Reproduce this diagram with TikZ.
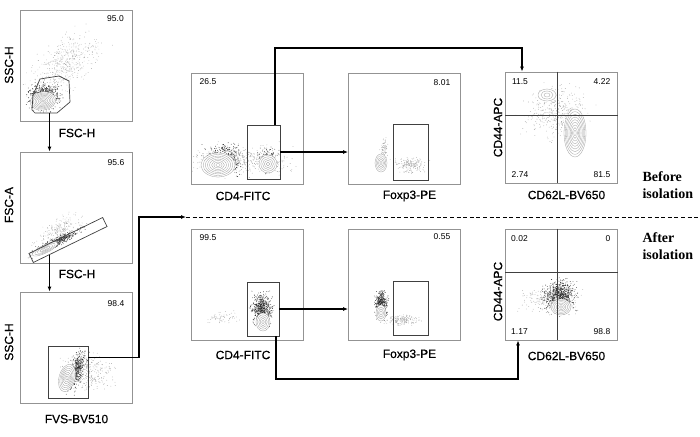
\documentclass[tikz,border=0pt]{standalone}
\usepackage{fontspec}
\setmainfont{Liberation Sans}
\newfontfamily\serifbold{Liberation Serif}
\newfontfamily\labelfont[FakeBold=0.6]{Liberation Sans}
\usetikzlibrary{arrows.meta}

% random events around a centre: x, y, spread x, spread y, angle, count, style
\newcommand{\flowdots}[7]{%
  \begin{scope}[shift={(#1,#2)},rotate=#5]
    \foreach \k in {1,...,#6}{
      \pgfmathsetmacro{\du}{#3*(rand+rand+rand)/1.7}
      \pgfmathsetmacro{\dv}{#4*(rand+rand+rand)/1.7}
      \fill[#7] (\du,\dv) circle (0.4);
    }
  \end{scope}}
% contour rings: x, y, radius x, radius y, angle, count
\newcommand{\flowrings}[6]{%
  \begin{scope}[shift={(#1,#2)},rotate=#5]
    \fill[white] (0,0) ellipse ({#3} and {#4});
    \foreach \i in {1,...,#6}{
      \draw[ring] (0,0) ellipse ({#3*\i/#6} and {#4*\i/#6});
    }
  \end{scope}}

\begin{document}
\begin{tikzpicture}[x=1pt,y=-1pt,
    panel/.style={draw=gray!85, line width=0.8pt, inner sep=0pt, minimum width=112pt, minimum height=111pt},
    gate/.style={draw=black!75, line width=0.7pt, inner sep=0pt},
    conn/.style={line width=1.1pt, -{Latex[length=5pt,width=4pt]}},
    divider/.style={line width=1pt, dash pattern=on 4pt off 2.6pt},
    quad/.style={draw=black!75, line width=0.8pt},
    ring/.style={draw=gray!75, line width=0.3pt},
    fine/.style={fill=gray!70},
    dense/.style={fill=black!85},
    num/.style={font=\fontsize{8.5}{10}\selectfont},
    axlabel/.style={font=\labelfont\fontsize{12}{14}\selectfont},
    phase/.style={font=\serifbold\bfseries\fontsize{14}{17}\selectfont, align=left, anchor=west}]
    \useasboundingbox (0,0) rectangle (700,436);
    \pgfmathsetseed{11}

    % panels
    \node[panel] (p1) at (76.5,65.5) {};
    \node[panel] (p2) at (76.5,207.5) {};
    \node[panel] (p3) at (76,347.5) {};
    \node[panel] (pa) at (247.5,128.5) {};
    \node[panel] (pb) at (404.5,128.5) {};
    \node[panel] (pc) at (561.5,127.5) {};
    \node[panel] (pd) at (247.5,284.5) {};
    \node[panel] (pe) at (404.5,284.5) {};
    \node[panel] (pf) at (561.5,284.5) {};

    % events
    \begin{scope}
        \clip (p1.north west) rectangle (p1.south east);
        \flowdots{64}{66}{32}{17}{40}{500}{fine}
        \flowdots{44}{97}{12}{10}{0}{700}{dense}
        \flowrings{43}{101}{13}{9}{10}{8}
    \end{scope}
    \begin{scope}
        \clip (p2.north west) rectangle (p2.south east);
        \flowdots{58}{230}{20}{8}{35}{200}{fine}
        \flowdots{56}{242}{22}{3.5}{26}{450}{dense}
        \flowrings{45}{249}{14}{4}{26}{5}
    \end{scope}
    \begin{scope}
        \clip (p3.north west) rectangle (p3.south east);
        \flowdots{88}{372}{20}{14}{0}{300}{fine}
        \flowdots{75}{372}{16}{6}{70}{600}{dense}
        \flowrings{67}{378}{14}{8}{75}{7}
    \end{scope}
    \begin{scope}
        \clip (pa.north west) rectangle (pa.south east);
        \flowdots{240}{160}{40}{12}{0}{500}{fine}
        \flowdots{222}{160}{15}{11}{0}{550}{dense}
        \flowdots{268}{160}{7}{9}{0}{220}{dense}
        \flowrings{218}{165}{17}{12}{0}{8}
        \flowrings{268}{164}{9}{9}{0}{5}
    \end{scope}
    \begin{scope}
        \clip (pb.north west) rectangle (pb.south east);
        \flowdots{384}{150}{3}{10}{0}{80}{fine}
        \flowdots{410}{165}{12}{6}{0}{180}{fine}
        \flowrings{381}{163}{6}{9}{0}{5}
    \end{scope}
    \begin{scope}
        \clip (pc.north west) rectangle (pc.south east);
        \flowdots{556}{112}{25}{20}{0}{380}{fine}
        \flowrings{547}{95}{9}{6}{0}{3}
        \flowrings{575}{133}{11}{24}{0}{9}
    \end{scope}
    \begin{scope}
        \clip (pd.north west) rectangle (pd.south east);
        \flowdots{222}{318}{12}{5}{0}{60}{fine}
        \flowdots{262}{310}{8}{12}{0}{600}{dense}
        \flowrings{263}{322}{7}{9}{0}{5}
    \end{scope}
    \begin{scope}
        \clip (pe.north west) rectangle (pe.south east);
        \flowdots{402}{320}{14}{4}{0}{160}{fine}
        \flowdots{381}{304}{5}{10}{0}{400}{dense}
        \flowrings{381}{313}{5}{8}{0}{4}
    \end{scope}
    \begin{scope}
        \clip (pf.north west) rectangle (pf.south east);
        \flowdots{550}{300}{22}{10}{0}{250}{fine}
        \flowdots{560}{296}{12}{12}{0}{700}{dense}
        \flowrings{561}{307}{10}{8}{0}{6}
    \end{scope}

    % gates
    \draw[gate] (40,79) -- (59,76) -- (69,81) -- (70,102) -- (57,113) -- (35,113) -- (32,110) -- (33,95) -- cycle;
    \coordinate (g1) at (49.5,113);
    \node[gate, rotate=26, minimum width=82pt, minimum height=10pt] (g2) at (68,240) {};
    \coordinate (g2out) at (49.5,254.5);
    \node[gate, minimum width=40pt, minimum height=52pt] (g3) at (68,372) {};
    \node[gate, minimum width=33pt, minimum height=54pt] (ga) at (263.5,152) {};
    \node[gate, minimum width=35pt, minimum height=56pt] (gb) at (410.5,152) {};
    \node[gate, minimum width=32pt, minimum height=54pt] (gd) at (263,309) {};
    \node[gate, minimum width=35pt, minimum height=54pt] (ge) at (410.5,308) {};
    \draw[quad] ([xshift=-4.5pt]pc.north) -- ([xshift=-4.5pt]pc.south);
    \draw[quad] ([yshift=12.5pt]pc.west) -- ([yshift=12.5pt]pc.east);
    \draw[quad] ([xshift=-4.5pt]pf.north) -- ([xshift=-4.5pt]pf.south);
    \draw[quad] ([yshift=12.5pt]pf.west) -- ([yshift=12.5pt]pf.east);

    % numbers
    \node[num] (n1) at (115.5,19) {95.0};
    \node[num] (n2) at (116,163) {95.6};
    \node[num] (n3) at (116,304) {98.4};
    \node[num] (na) at (208,82) {26.5};
    \node[num] (nb) at (442,83) {8.01};
    \node[num] (nc1) at (520,82) {11.5};
    \node[num] (nc2) at (602,82) {4.22};
    \node[num] (nc3) at (520,175) {2.74};
    \node[num] (nc4) at (602,175) {81.5};
    \node[num] (nd) at (208,238) {99.5};
    \node[num] (ne) at (442,237) {0.55};
    \node[num] (nf1) at (519.5,239) {0.02};
    \node[num] (nf2) at (608,239) {0};
    \node[num] (nf3) at (519.5,332) {1.17};
    \node[num] (nf4) at (602,332) {98.8};

    % axis labels
    \node[axlabel, rotate=90] (y1) at (9,65) {SSC-H};
    \node[axlabel, rotate=90] (y2) at (9,205) {FSC-A};
    \node[axlabel, rotate=90] (y3) at (9,342) {SSC-H};
    \node[axlabel, rotate=90] (yc) at (498,127.5) {CD44-APC};
    \node[axlabel, rotate=90] (yf) at (498,291.5) {CD44-APC};
    \node[axlabel] (x1) at (77,133) {FSC-H};
    \node[axlabel] (x2) at (77,274) {FSC-H};
    \node[axlabel] (x3) at (76.5,419) {FVS-BV510};
    \node[axlabel] (xa) at (243,196) {CD4-FITC};
    \node[axlabel] (xb) at (409.5,196) {Foxp3-PE};
    \node[axlabel] (xc) at (566.5,195) {CD62L-BV650};
    \node[axlabel] (xd) at (243,355) {CD4-FITC};
    \node[axlabel] (xe) at (409.5,355) {Foxp3-PE};
    \node[axlabel] (xf) at (566.5,356) {CD62L-BV650};
    \node[phase] (before) at (639,185.5) {Before\\isolation};
    \node[phase] (after) at (639,246.5) {After\\isolation};

    % connectors
    \coordinate (bend) at (139,217);
    \coordinate (div) at (186,217);
    \coordinate (divend) at (700,217);
    \coordinate (topbend) at (522,48);
    \coordinate (botbend) at (518,379);
    \draw[conn] (g1) -- (g1 |- p2.north);
    \draw[conn] (g2out) -- (g2out |- p3.north);
    \draw[conn] ([yshift=-12pt]g3.north east) -| (bend) -- (div);
    \draw[divider] (div) -- (divend);
    \draw[conn] (ga.east) -- (ga.east -| pb.west);
    \draw[conn] (gd.east) -- (gd.east -| pe.west);
    \draw[conn] ([xshift=11.5pt]ga.north) |- (topbend) -- (topbend |- pc.north);
    \draw[conn] ([xshift=13pt]gd.south) |- (botbend) -- (botbend |- pf.south);
\end{tikzpicture}
\end{document}
